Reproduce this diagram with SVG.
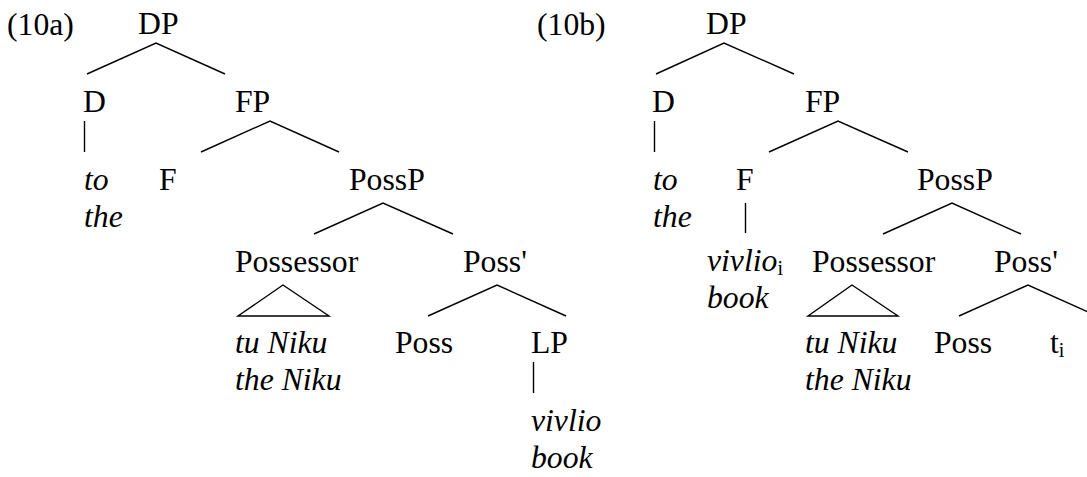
<svg xmlns="http://www.w3.org/2000/svg" width="1087" height="477" viewBox="0 0 1087 477">
  <style>
    text { font-family: 'Liberation Serif', 'Times New Roman', Times, serif; font-size: 31.7px; fill: #000; }
    .it { font-style: italic; }
    .sub { font-size: 20px; font-style: normal; }
    .edge { fill: none; stroke: #000; stroke-width: 1.4; stroke-linejoin: miter; }
  </style>
  <rect width="1087" height="477" fill="#fff"/>

  <!-- branches of both trees -->
  <g id="connectors">
    <!-- tree (10a) -->
    <path class="edge" d="M87,74 L156,43 L225,74"/>
    <path class="edge" d="M84.5,121 L84.5,152"/>
    <path class="edge" d="M201,152 L270,121 L339,152"/>
    <path class="edge" d="M314,234 L383,203 L453,234"/>
    <path class="edge" d="M283,285 L238,316 L329,316 Z"/>
    <path class="edge" d="M428,316 L497,285 L566,316"/>
    <path class="edge" d="M533.5,362 L533.5,393"/>
    <!-- tree (10b) -->
    <path class="edge" d="M656,74 L724,43 L794,74"/>
    <path class="edge" d="M654.5,121 L654.5,152"/>
    <path class="edge" d="M769,152 L838,121 L908,152"/>
    <path class="edge" d="M745.5,203 L745.5,233"/>
    <path class="edge" d="M883,234 L952,203 L1021,234"/>
    <path class="edge" d="M852,285 L808,316 L898,316 Z"/>
    <path class="edge" d="M959,316 L1028,285 L1097,316"/>
  </g>

  <!-- tree (10a) -->
  <g id="label-10a"><text x="7" y="35">(10a)</text></g>
  <g id="a-DP"><text x="138" y="34">DP</text></g>
  <g id="a-D"><text x="83" y="112">D</text></g>
  <g id="a-FP"><text x="235" y="112">FP</text></g>
  <g id="a-to"><text class="it" x="84" y="190">to</text><text class="it" x="84" y="227">the</text></g>
  <g id="a-F"><text x="159" y="190">F</text></g>
  <g id="a-PossP"><text x="349" y="190">PossP</text></g>
  <g id="a-Possessor"><text x="235" y="272">Possessor</text></g>
  <g id="a-PossBar"><text x="463" y="272">Poss'</text></g>
  <g id="a-tuNiku"><text class="it" x="235" y="353">tu Niku</text><text class="it" x="235" y="390">the Niku</text></g>
  <g id="a-Poss"><text x="395" y="353">Poss</text></g>
  <g id="a-LP"><text x="531" y="353">LP</text></g>
  <g id="a-vivlio"><text class="it" x="531" y="431">vivlio</text><text class="it" x="531" y="468">book</text></g>

  <!-- tree (10b) -->
  <g id="label-10b"><text x="537" y="35">(10b)</text></g>
  <g id="b-DP"><text x="706" y="34">DP</text></g>
  <g id="b-D"><text x="652" y="112">D</text></g>
  <g id="b-FP"><text x="805" y="112">FP</text></g>
  <g id="b-to"><text class="it" x="653" y="190">to</text><text class="it" x="653" y="227">the</text></g>
  <g id="b-F"><text x="736" y="190">F</text></g>
  <g id="b-PossP"><text x="917" y="190">PossP</text></g>
  <g id="b-vivlio"><text class="it" x="707" y="271">vivlio<tspan class="sub" dy="4">i</tspan></text><text class="it" x="707" y="308">book</text></g>
  <g id="b-Possessor"><text x="812" y="272">Possessor</text></g>
  <g id="b-PossBar"><text x="994" y="272">Poss'</text></g>
  <g id="b-tuNiku"><text class="it" x="805" y="353">tu Niku</text><text class="it" x="805" y="390">the Niku</text></g>
  <g id="b-Poss"><text x="934" y="353">Poss</text></g>
  <g id="b-trace"><text x="1050" y="353">t<tspan class="sub" dy="4">i</tspan></text></g>
</svg>
